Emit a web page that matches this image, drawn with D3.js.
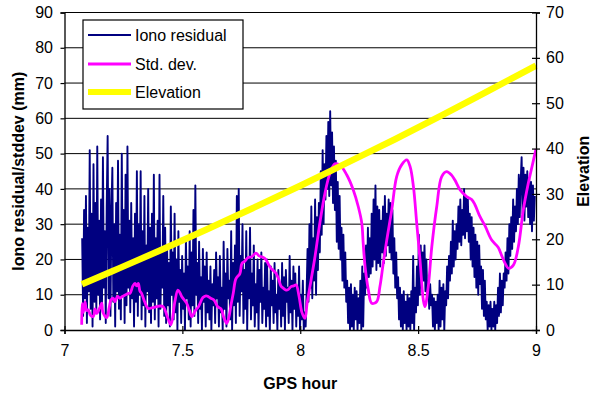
<!DOCTYPE html>
<html>
<head>
<meta charset="utf-8">
<script src="https://cdn.jsdelivr.net/npm/d3@7"></script>
<style>
  html, body { margin: 0; padding: 0; background: #fff; }
  svg { display: block; font-family: Arial, "Liberation Sans", sans-serif; }
</style>
</head>
<body>
<svg id="chart" width="592" height="400"></svg>
<script>
// ---- Data ----------------------------------------------------------------
// Ionospheric residual (mm), sampled every 0.004 h starting at 7.075 h
const ionoStart = 7.075;
const ionoStep = 0.004;
const ionoResidual = [
  26, 4, 34, 9, 38, 2, 29, 11, 51, 6, 33, 1, 47, 8, 36,
  5, 52, 10, 31, 3, 37, 7, 49, 12, 28, 2, 35, 55, 9, 40,
  4, 33, 46, 8, 30, 1, 36, 11, 48, 6, 27, 3, 50, 10, 34,
  2, 44, 7, 52, 12, 31, 5, 36, 9, 26, 1, 33, 8, 45, 4,
  30, 10, 45, 3, 28, 7, 38, 1, 24, 11, 40, 5, 29, 2, 33,
  8, 44, 3, 26, 9, 31, 1, 44, 6, 22, 12, 38, 4, 29, 2,
  24, 7, 19, 1, 35, 10, 22, 3, 33, 5, 20, 0, 28, 8, 17,
  2, 21, 6, 16, 0, 26, 9, 18, 3, 28, 1, 22, 7, 34, 4,
  41, 10, 19, 2, 25, 6, 15, 0, 23, 8, 18, 1, 22, 5, 14,
  3, 18, 0, 13, 7, 17, 2, 22, 9, 15, 1, 21, 5, 12, 0,
  25, 6, 16, 1, 23, 9, 14, 3, 28, 0, 19, 7, 24, 2, 38,
  8, 40, 4, 21, 11, 30, 2, 17, 6, 28, 0, 20, 9, 29, 3,
  16, 7, 24, 1, 13, 5, 20, 0, 17, 8, 22, 2, 12, 6, 19,
  1, 20, 4, 11, 0, 18, 7, 14, 2, 19, 5, 10, 0, 17, 6,
  13, 1, 19, 4, 15, 0, 17, 8, 12, 2, 21, 5, 14, 0, 18,
  6, 16, 1, 12, 4, 18, 0, 10, 3, 14, 0, 5, 1, 11, 23,
  8, 30, 12, 35, 9, 26, 14, 37, 10, 32, 17, 36, 22, 45, 27,
  51, 30, 47, 37, 55, 40, 59, 38, 62, 41, 56, 36, 52, 34, 48,
  25, 42, 23, 38, 20, 29, 14, 27, 12, 22, 8, 14, 2, 12, 0,
  13, 1, 10, 0, 12, 3, 11, 0, 9, 2, 14, 0, 18, 1, 16,
  10, 24, 12, 29, 15, 26, 16, 33, 18, 37, 20, 41, 17, 35, 19,
  34, 18, 31, 22, 35, 19, 38, 21, 33, 24, 37, 22, 36, 20, 34,
  16, 26, 12, 22, 9, 15, 3, 12, 1, 10, 0, 11, 2, 8, 0,
  10, 1, 9, 0, 11, 2, 21, 0, 12, 5, 18, 7, 27, 10, 24,
  12, 22, 14, 24, 11, 20, 9, 14, 6, 13, 7, 10, 1, 9, 0,
  8, 2, 10, 0, 14, 1, 12, 3, 13, 0, 11, 7, 18, 9, 21,
  14, 25, 16, 31, 18, 28, 20, 30, 23, 35, 25, 37, 24, 34, 27,
  40, 26, 38, 28, 37, 25, 33, 20, 32, 18, 29, 15, 27, 12, 25,
  10, 24, 13, 18, 6, 17, 4, 14, 3, 8, 0, 7, 1, 8, 0,
  6, 1, 8, 0, 7, 2, 12, 4, 16, 5, 14, 7, 16, 12, 22,
  14, 26, 16, 30, 21, 32, 23, 37, 25, 35, 28, 40, 30, 44, 32,
  42, 49, 33, 46, 31, 44, 35, 45, 32, 43, 30, 42, 28, 41, 31,
  38
];

// Standard deviation (mm)
const stdTime = [
  7.073, 7.075, 7.080, 7.087, 7.094, 7.101, 7.110, 7.122, 7.130, 7.137,
  7.151, 7.158, 7.163, 7.179, 7.190, 7.197, 7.207, 7.214, 7.225, 7.235,
  7.245, 7.257, 7.270, 7.278, 7.290, 7.299, 7.306, 7.313, 7.320, 7.327,
  7.340, 7.355, 7.370, 7.391, 7.405, 7.419, 7.435, 7.443, 7.450, 7.456,
  7.468, 7.481, 7.490, 7.497, 7.518, 7.530, 7.540, 7.555, 7.568, 7.587,
  7.600, 7.609, 7.620, 7.634, 7.650, 7.664, 7.676, 7.688, 7.697, 7.706,
  7.716, 7.727, 7.744, 7.753, 7.765, 7.778, 7.795, 7.812, 7.825, 7.833,
  7.845, 7.855, 7.866, 7.876, 7.897, 7.908, 7.918, 7.929, 7.940, 7.950,
  7.961, 7.972, 7.982, 7.995, 8.007, 8.020, 8.029, 8.046, 8.063, 8.084,
  8.105, 8.126, 8.147, 8.168, 8.197, 8.225, 8.246, 8.261, 8.267, 8.275,
  8.289, 8.303, 8.324, 8.338, 8.352, 8.367, 8.388, 8.409, 8.430, 8.452,
  8.466, 8.480, 8.494, 8.508, 8.522, 8.529, 8.543, 8.558, 8.579, 8.600,
  8.621, 8.642, 8.656, 8.678, 8.706, 8.727, 8.741, 8.762, 8.784, 8.812,
  8.840, 8.855, 8.869, 8.883, 8.904, 8.925, 8.946, 8.967, 8.982, 9.000
];
const stdValue = [
  1.5, 7.5, 5.0, 8.0, 5.5, 5.7, 4.2, 3.8, 6.0, 4.7,
  6.5, 7.6, 5.0, 3.5, 6.5, 8.5, 9.0, 8.0, 9.5, 9.0,
  9.5, 9.9, 10.4, 10.4, 12.5, 13.2, 12.5, 13.2, 11.0, 10.4,
  8.0, 6.1, 6.3, 6.6, 6.8, 6.6, 4.0, 2.5, 1.5, 2.5,
  8.0, 11.3, 10.5, 9.5, 7.6, 5.5, 3.8, 5.5, 6.6, 9.2,
  9.7, 9.5, 9.0, 8.5, 6.6, 6.0, 3.5, 1.9, 3.5, 7.0,
  10.5, 14.5, 16.0, 18.9, 19.5, 20.5, 20.8, 21.8, 21.0, 20.8,
  20.5, 19.9, 18.5, 17.5, 16.1, 14.5, 12.5, 11.8, 11.3, 11.5,
  12.3, 12.5, 12.8, 9.5, 5.0, 3.3, 7.6, 14.2, 21.0, 30.7,
  38.8, 44.4, 47.1, 46.8, 44.0, 39.7, 35.0, 30.3, 24.6, 18.0,
  11.3, 7.6, 8.0, 12.3, 18.9, 25.5, 34.0, 43.5, 46.8, 48.2,
  46.3, 40.7, 30.3, 19.9, 8.5, 6.6, 12.3, 23.6, 35.0, 43.5,
  44.9, 43.9, 42.5, 39.7, 37.8, 37.0, 35.5, 32.2, 29.5, 25.5,
  23.4, 21.0, 18.9, 17.5, 18.4, 23.6, 34.0, 41.5, 46.0, 51.3
];

// Satellite elevation (degrees)
const elevTime  = [7.074, 7.2, 7.4, 7.6, 7.8, 8.0, 8.2, 8.4, 8.6, 8.8, 9.0];
const elevValue = [10.1, 12.9, 17.4, 22.1, 26.9, 31.8, 36.9, 42.0, 47.3, 52.8, 58.3];

// Axis ticks
const xTicks = [7, 7.5, 8, 8.5, 9];
const leftTicks = [0, 10, 20, 30, 40, 50, 60, 70, 80, 90];
const rightTicks = [0, 10, 20, 30, 40, 50, 60, 70];

// Legend entries
const seriesNames = ["Iono residual", "Std. dev.", "Elevation"];

// ---- Layout & scales ----------------------------------------------------
const plot = { left: 64.5, right: 536, top: 12.5, bottom: 330 };
const svg = d3.select("#chart");

const x = d3.scaleLinear().domain([7, 9]).range([plot.left, plot.right]);
const yLeft = d3.scaleLinear().domain([0, 90]).range([plot.bottom, plot.top]);
const yRight = d3.scaleLinear().domain([0, 70]).range([plot.bottom, plot.top]);

// ---- Gridlines ------------------------------------------------------------
svg.append("g")
  .selectAll("line")
  .data(leftTicks.filter(d => d > 0))
  .join("line")
  .attr("x1", plot.left).attr("x2", plot.right)
  .attr("y1", d => yLeft(d)).attr("y2", d => yLeft(d))
  .attr("stroke", "#000").attr("stroke-width", 1);

// ---- Series ----------------------------------------------------------------
const ionoData = ionoResidual.map((v, i) => [ionoStart + i * ionoStep, v]);
const stdData = stdTime.map((t, i) => [t, stdValue[i]]);
const elevData = elevTime.map((t, i) => [t, elevValue[i]]);

const lineIono = d3.line().x(d => x(d[0])).y(d => yLeft(d[1]));
const lineStd = d3.line().curve(d3.curveCatmullRom.alpha(0.5)).x(d => x(d[0])).y(d => yLeft(d[1]));
const lineElev = d3.line().curve(d3.curveMonotoneX).x(d => x(d[0])).y(d => yRight(d[1]));

svg.append("path")
  .datum(ionoData)
  .attr("d", lineIono)
  .attr("fill", "none")
  .attr("stroke", "#000080")
  .attr("stroke-width", 1.9)
  .attr("stroke-linejoin", "round");

svg.append("path")
  .datum(stdData)
  .attr("d", lineStd)
  .attr("fill", "none")
  .attr("stroke", "#FF00FF")
  .attr("stroke-width", 2.8)
  .attr("stroke-linejoin", "round");

svg.append("path")
  .datum(elevData)
  .attr("d", lineElev)
  .attr("fill", "none")
  .attr("stroke", "#FFFF00")
  .attr("stroke-width", 6.5);

// ---- Axes ------------------------------------------------------------------
const tickFont = "16px";

const gLeft = svg.append("g")
  .attr("transform", `translate(${plot.left},0)`)
  .call(d3.axisLeft(yLeft).tickValues(leftTicks).tickSize(4).tickPadding(7.5).tickFormat(d3.format("d")));

const gRight = svg.append("g")
  .attr("transform", `translate(${plot.right},0)`)
  .call(d3.axisRight(yRight).tickValues(rightTicks).tickSize(4).tickPadding(6).tickFormat(d3.format("d")));
gRight.selectAll(".tick line").attr("x1", -4);

const gBottom = svg.append("g")
  .attr("transform", `translate(0,${plot.bottom})`)
  .call(d3.axisBottom(x).tickValues(xTicks).tickSize(4).tickPadding(11).tickFormat(d => String(d)));
gBottom.selectAll(".tick line").attr("y1", -4);

[gLeft, gRight, gBottom].forEach(g => {
  g.select(".domain").attr("stroke", "#000").attr("stroke-width", 1.3);
  g.selectAll(".tick line").attr("stroke", "#000").attr("stroke-width", 1.2);
  g.selectAll(".tick text")
    .attr("fill", "#000")
    .style("font-size", tickFont)
    .style("font-family", 'Arial, "Liberation Sans", sans-serif');
});

// ---- Axis titles -----------------------------------------------------------
svg.append("text")
  .attr("x", (plot.left + plot.right) / 2)
  .attr("y", 389)
  .attr("text-anchor", "middle")
  .style("font-size", "16px")
  .style("font-weight", "bold")
  .text("GPS hour");

svg.append("text")
  .attr("transform", `translate(24,${(plot.top + plot.bottom) / 2}) rotate(-90)`)
  .attr("text-anchor", "middle")
  .style("font-size", "16px")
  .style("font-weight", "bold")
  .text("Iono residual/stddev (mm)");

svg.append("text")
  .attr("transform", `translate(589,${(plot.top + plot.bottom) / 2}) rotate(-90)`)
  .attr("text-anchor", "middle")
  .style("font-size", "16px")
  .style("font-weight", "bold")
  .text("Elevation");

// ---- Legend ------------------------------------------------------------------
const legend = svg.append("g").attr("transform", "translate(83,20)");
legend.append("rect")
  .attr("width", 160).attr("height", 89)
  .attr("fill", "#fff").attr("stroke", "#000").attr("stroke-width", 1.2);

const legendStyles = [
  { color: "#000080", width: 1.8 },
  { color: "#FF00FF", width: 3 },
  { color: "#FFFF00", width: 6 }
];
const legendRowY = [15, 44, 72];

seriesNames.forEach((name, i) => {
  legend.append("line")
    .attr("x1", 5).attr("x2", 48)
    .attr("y1", legendRowY[i]).attr("y2", legendRowY[i])
    .attr("stroke", legendStyles[i].color)
    .attr("stroke-width", legendStyles[i].width);
  legend.append("text")
    .attr("x", 52)
    .attr("y", legendRowY[i] + 5.5)
    .style("font-size", "16px")
    .text(name);
});
</script>
</body>
</html>
